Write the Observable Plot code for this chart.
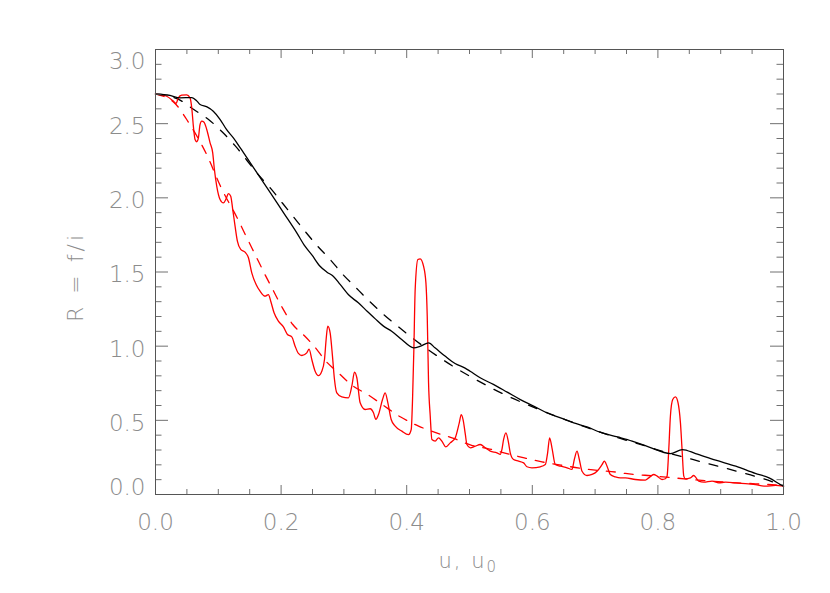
<!DOCTYPE html>
<html><head><meta charset="utf-8">
<script src="https://cdn.jsdelivr.net/npm/d3@7"></script>
<script src="https://cdn.jsdelivr.net/npm/@observablehq/plot@0.6"></script>
<style>body{margin:0;background:#fff;}</style>
</head><body><div id="chart"></div>
<script>
// Black solid curve R(u)
const blackSolidU = [0, 0.023, 0.039, 0.058, 0.066, 0.071, 0.082, 0.092, 0.103, 0.113, 0.124, 0.135, 0.151, 0.167, 0.183, 0.204, 0.225, 0.238, 0.249, 0.262, 0.273, 0.283, 0.294, 0.307, 0.323, 0.337, 0.350, 0.363, 0.376, 0.392, 0.411, 0.422, 0.435, 0.445, 0.461, 0.477, 0.493, 0.501, 0.517, 0.538, 0.560, 0.581, 0.602, 0.623, 0.645, 0.666, 0.687, 0.708, 0.736, 0.759, 0.785, 0.820, 0.839, 0.860, 0.892, 0.924, 0.955, 0.977, 0.995, 1.0];
const blackSolidR = [2.70, 2.69, 2.674, 2.676, 2.652, 2.629, 2.613, 2.584, 2.528, 2.461, 2.404, 2.337, 2.236, 2.135, 2.034, 1.899, 1.764, 1.674, 1.615, 1.539, 1.499, 1.472, 1.416, 1.348, 1.292, 1.236, 1.184, 1.135, 1.101, 1.045, 0.989, 1.0, 1.022, 0.989, 0.933, 0.883, 0.852, 0.831, 0.787, 0.742, 0.690, 0.640, 0.596, 0.551, 0.517, 0.483, 0.456, 0.420, 0.388, 0.360, 0.321, 0.276, 0.303, 0.276, 0.231, 0.191, 0.142, 0.112, 0.067, 0.055];
// Black dashed curve
const blackDashU = [0, 0.036, 0.061, 0.084, 0.106, 0.127, 0.162, 0.184, 0.202, 0.221, 0.239, 0.258, 0.279, 0.297, 0.319, 0.339, 0.363, 0.384, 0.406, 0.433, 0.457, 0.481, 0.508, 0.534, 0.560, 0.587, 0.623, 0.666, 0.708, 0.740, 0.783, 0.810, 0.842, 0.871, 0.901, 0.930, 0.959, 1.0];
const blackDashR = [2.70, 2.665, 2.595, 2.53, 2.445, 2.35, 2.165, 2.06, 1.965, 1.865, 1.77, 1.675, 1.58, 1.49, 1.395, 1.31, 1.215, 1.14, 1.065, 0.98, 0.91, 0.845, 0.78, 0.72, 0.665, 0.615, 0.552, 0.484, 0.42, 0.378, 0.324, 0.287, 0.252, 0.218, 0.185, 0.152, 0.118, 0.06];
// Red solid curve
const redSolidU = [0, 0.0178, 0.0284, 0.0327, 0.0364, 0.0417, 0.0497, 0.0550, 0.0577, 0.0603, 0.0630, 0.0656, 0.0683, 0.0709, 0.0736, 0.0773, 0.0816, 0.0869, 0.0911, 0.0938, 0.0975, 0.1028, 0.1081, 0.1124, 0.1161, 0.1198, 0.1230, 0.1267, 0.1304, 0.1357, 0.1426, 0.1480, 0.1533, 0.1602, 0.1665, 0.1745, 0.1798, 0.1835, 0.1888, 0.1957, 0.2037, 0.2101, 0.2170, 0.2223, 0.2276, 0.2330, 0.2409, 0.2446, 0.2489, 0.2542, 0.2595, 0.2648, 0.2691, 0.2717, 0.2743, 0.2781, 0.2818, 0.2850, 0.2887, 0.2967, 0.3073, 0.3126, 0.3169, 0.3206, 0.3259, 0.3338, 0.3418, 0.3471, 0.3509, 0.3551, 0.3615, 0.3657, 0.3700, 0.3753, 0.3817, 0.3923, 0.4029, 0.4072, 0.4093, 0.4114, 0.4135, 0.4178, 0.4215, 0.4268, 0.4306, 0.4327, 0.4348, 0.4375, 0.4401, 0.4454, 0.4507, 0.4560, 0.4624, 0.4693, 0.4773, 0.4837, 0.4869, 0.4900, 0.4932, 0.4959, 0.5012, 0.5092, 0.5171, 0.5251, 0.5331, 0.5437, 0.5490, 0.5516, 0.5543, 0.5580, 0.5622, 0.5649, 0.5702, 0.5782, 0.5862, 0.5915, 0.5994, 0.6127, 0.6207, 0.6244, 0.6276, 0.6313, 0.6366, 0.6446, 0.6553, 0.6632, 0.6669, 0.6712, 0.6749, 0.6792, 0.6871, 0.6951, 0.7031, 0.7111, 0.7148, 0.7190, 0.7243, 0.7323, 0.7402, 0.7482, 0.7641, 0.7801, 0.7854, 0.7934, 0.7987, 0.8066, 0.8119, 0.8146, 0.8173, 0.8199, 0.8236, 0.8279, 0.8321, 0.8359, 0.8385, 0.8412, 0.8438, 0.8518, 0.8571, 0.8608, 0.8651, 0.8730, 0.8863, 0.8969, 0.9076, 0.9235, 0.9395, 0.9554, 0.9713, 0.9873, 1.0];
const redSolidR = [2.701, 2.685, 2.652, 2.636, 2.674, 2.692, 2.694, 2.674, 2.607, 2.483, 2.393, 2.378, 2.404, 2.494, 2.517, 2.510, 2.461, 2.371, 2.303, 2.191, 2.079, 1.989, 1.966, 1.993, 2.029, 2.011, 1.921, 1.809, 1.708, 1.652, 1.634, 1.596, 1.494, 1.416, 1.371, 1.337, 1.348, 1.303, 1.225, 1.169, 1.130, 1.079, 1.063, 1.0, 0.951, 0.937, 0.955, 0.980, 0.910, 0.831, 0.802, 0.831, 0.910, 1.045, 1.135, 1.090, 0.933, 0.775, 0.685, 0.658, 0.652, 0.730, 0.825, 0.787, 0.618, 0.573, 0.578, 0.551, 0.506, 0.539, 0.640, 0.685, 0.618, 0.506, 0.461, 0.427, 0.404, 0.438, 0.640, 0.978, 1.382, 1.584, 1.589, 1.539, 1.427, 1.202, 0.753, 0.528, 0.371, 0.360, 0.382, 0.360, 0.321, 0.348, 0.382, 0.483, 0.539, 0.500, 0.410, 0.337, 0.315, 0.326, 0.337, 0.315, 0.292, 0.281, 0.270, 0.303, 0.371, 0.416, 0.348, 0.281, 0.236, 0.225, 0.213, 0.187, 0.180, 0.187, 0.202, 0.281, 0.382, 0.315, 0.202, 0.191, 0.180, 0.169, 0.236, 0.292, 0.236, 0.157, 0.128, 0.135, 0.157, 0.202, 0.225, 0.191, 0.135, 0.119, 0.112, 0.112, 0.101, 0.097, 0.112, 0.135, 0.124, 0.101, 0.106, 0.124, 0.303, 0.528, 0.640, 0.658, 0.618, 0.483, 0.303, 0.124, 0.106, 0.112, 0.128, 0.112, 0.090, 0.083, 0.090, 0.079, 0.083, 0.079, 0.074, 0.067, 0.056, 0.061, 0.056];
// Red dashed curve
const redDashU = [0, 0.0327, 0.0497, 0.0805, 0.1055, 0.1304, 0.1453, 0.1586, 0.1729, 0.1867, 0.2021, 0.2186, 0.2367, 0.2526, 0.2712, 0.2913, 0.3126, 0.3392, 0.3631, 0.3897, 0.4189, 0.4507, 0.4747, 0.5023, 0.5289, 0.5596, 0.5872, 0.6154, 0.6457, 0.6749, 0.7041, 0.7333, 0.7482, 0.7960, 0.8544, 0.9076, 0.9554, 1.0];
const redDashR = [2.701, 2.629, 2.528, 2.300, 2.060, 1.862, 1.732, 1.618, 1.495, 1.382, 1.258, 1.146, 1.072, 1.0, 0.899, 0.820, 0.737, 0.670, 0.600, 0.524, 0.461, 0.411, 0.378, 0.333, 0.310, 0.276, 0.247, 0.220, 0.198, 0.178, 0.162, 0.151, 0.142, 0.124, 0.101, 0.083, 0.072, 0.061];
// Axis ticks
const xMajorTicks = [0, 0.2, 0.4, 0.6, 0.8, 1.0];
const xMinorTicks = [0.05, 0.1, 0.15, 0.25, 0.3, 0.35, 0.45, 0.5, 0.55, 0.65, 0.7, 0.75, 0.85, 0.9, 0.95];
const yMajorTicks = [0, 0.5, 1.0, 1.5, 2.0, 2.5, 3.0];
const yMinorTicks = [0.1,0.2,0.3,0.4,0.6,0.7,0.8,0.9,1.1,1.2,1.3,1.4,1.6,1.7,1.8,1.9,2.1,2.2,2.3,2.4,2.6,2.7,2.8,2.9];
const yMidLabels = [0.5, 1.0, 1.5, 2.0, 2.5];
const xTitle = "u, u";
const xTitleSub = "0";
const yTitle = "R = f/i";

const W = 830, H = 593, ML = 155, MR = 47, MT = 49, MB = 99;
const fw = W - ML - MR, fh = H - MT - MB;
const series = (u, r) => u.map((x, i) => ({u: x, r: r[i]}));
const labelColor = "#8c8c8c", tickColor = "#707070";
const font = 23;

const chart = Plot.plot({
  width: W, height: H,
  marginLeft: ML, marginRight: MR, marginTop: MT, marginBottom: MB,
  x: {domain: [0, 1], label: null},
  y: {domain: [0, 3], label: null},
  style: {fontFamily: "'DejaVu Sans', sans-serif", fontWeight: 200, background: "#fff", overflow: "visible"},
  marks: [
    Plot.line(series(redDashU, redDashR), {x: "u", y: "r", stroke: "#ff0000", strokeWidth: 1.3, strokeDasharray: "9,9", curve: "monotone-x"}),
    Plot.line(series(blackDashU, blackDashR), {x: "u", y: "r", stroke: "#000", strokeWidth: 1.3, strokeDasharray: "9,10", curve: "monotone-x"}),
    Plot.line(series(redSolidU, redSolidR), {x: "u", y: "r", stroke: "#ff0000", strokeWidth: 1.3, curve: "monotone-x"}),
    Plot.line(series(blackSolidU, blackSolidR), {x: "u", y: "r", stroke: "#000", strokeWidth: 1.3, curve: "monotone-x"}),
    // ticks: left / right
    Plot.tickY(yMajorTicks, {y: d => d, insetRight: fw - 13, stroke: tickColor}),
    Plot.tickY(yMinorTicks, {y: d => d, insetRight: fw - 6.5, stroke: tickColor}),
    Plot.tickY(yMajorTicks, {y: d => d, insetLeft: fw - 13, stroke: tickColor}),
    Plot.tickY(yMinorTicks, {y: d => d, insetLeft: fw - 6.5, stroke: tickColor}),
    // ticks: bottom / top
    Plot.tickX(xMajorTicks, {x: d => d, insetTop: fh - 9, stroke: tickColor}),
    Plot.tickX(xMinorTicks, {x: d => d, insetTop: fh - 5, stroke: tickColor}),
    Plot.tickX(xMajorTicks, {x: d => d, insetBottom: fh - 9, stroke: tickColor}),
    Plot.tickX(xMinorTicks, {x: d => d, insetBottom: fh - 5, stroke: tickColor}),
    Plot.frame({stroke: "#555"}),
    // tick labels
    Plot.axisY(yMidLabels, {anchor: "left", tickSize: 0, tickPadding: 10, dy: 3, fontSize: font, color: labelColor, tickFormat: ".1f"}),
    Plot.axisY([3.0], {anchor: "left", tickSize: 0, tickPadding: 10, dy: 12, fontSize: font, color: labelColor, tickFormat: ".1f"}),
    Plot.axisY([0.0], {anchor: "left", tickSize: 0, tickPadding: 10, dy: -7, fontSize: font, color: labelColor, tickFormat: ".1f"}),
    Plot.axisX(xMajorTicks, {anchor: "bottom", tickSize: 0, tickPadding: 19, fontSize: font, color: labelColor, tickFormat: ".1f"}),
    // titles
    Plot.text([xTitle], {frameAnchor: "bottom", textAnchor: "start", lineAnchor: "bottom", dx: -31, dy: 73, fontSize: 21, fill: labelColor}),
    Plot.text([yTitle], {frameAnchor: "left", rotate: -90, textAnchor: "middle", lineAnchor: "middle", dx: -80, dy: 5, fontSize: 22, fill: labelColor})
  ]
});

d3.select(chart).selectAll("text").each(function() {
  if (this.textContent === xTitle) {
    d3.select(this).style("letter-spacing", "2px")
      .append("tspan").attr("dy", 4).attr("font-size", 15).text(xTitleSub);
  } else if (this.textContent === yTitle) {
    d3.select(this).style("letter-spacing", "3px");
  }
});

document.getElementById("chart").appendChild(chart);
</script>
</body></html>
